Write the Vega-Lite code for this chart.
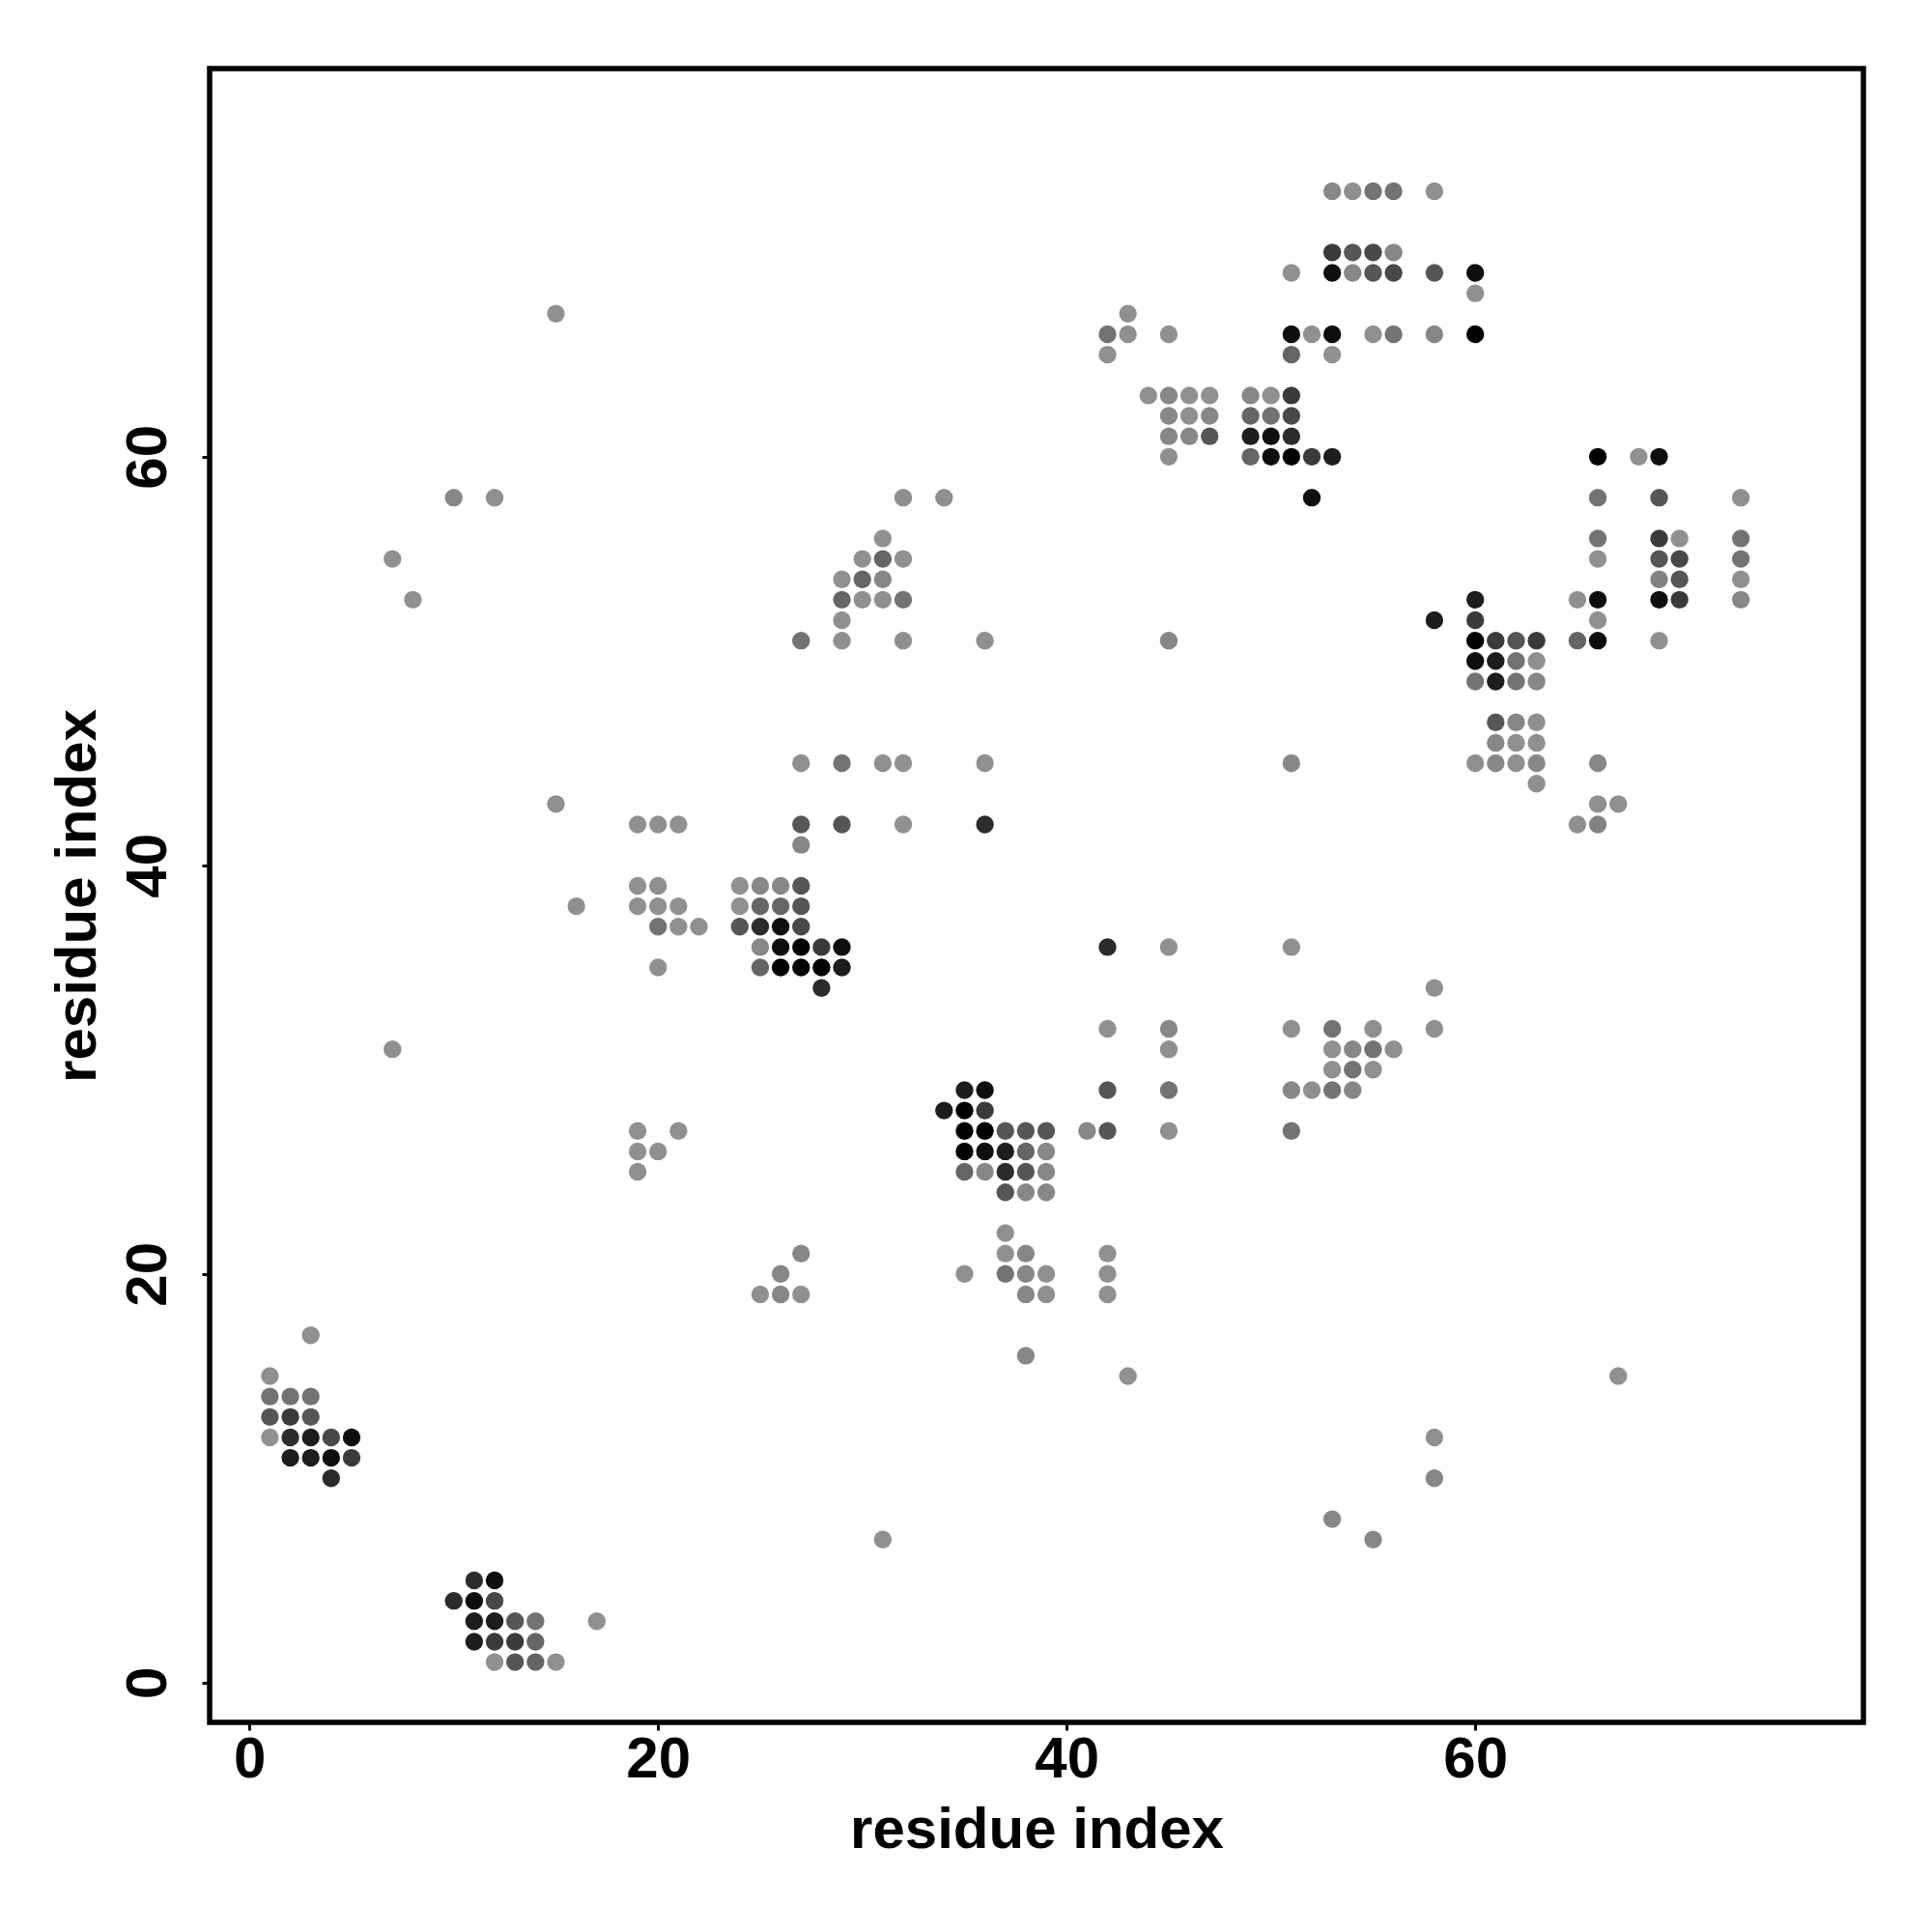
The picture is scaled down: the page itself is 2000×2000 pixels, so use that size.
{
  "$schema": "https://vega.github.io/schema/vega-lite/v6.json",
  "width": 1712,
  "height": 1712,
  "autosize": {"type": "none"},
  "padding": {"left": 217, "top": 71, "right": 71, "bottom": 217},
  "background": "white",
  "config": {"view": {"stroke": "black", "strokeWidth": 5.5}},
  "data": {
    "values": [
      {"i":1,"j":15,"s":1},{"i":1,"j":14,"s":2},{"i":2,"j":14,"s":2},{"i":3,"j":14,"s":2},
      {"i":1,"j":13,"s":3},{"i":2,"j":13,"s":4},{"i":3,"j":13,"s":3},
      {"i":1,"j":12,"s":1},{"i":2,"j":12,"s":4.5},{"i":3,"j":12,"s":5},{"i":4,"j":12,"s":3.5},{"i":5,"j":12,"s":5.5},
      {"i":2,"j":11,"s":5},{"i":3,"j":11,"s":5},{"i":4,"j":11,"s":5.5},{"i":5,"j":11,"s":4},
      {"i":4,"j":10,"s":4.5},{"i":3,"j":17,"s":1},
      {"i":11,"j":5,"s":4.5},{"i":12,"j":5,"s":5.5},
      {"i":10,"j":4,"s":4.5},{"i":11,"j":4,"s":5.5},{"i":12,"j":4,"s":3.5},
      {"i":11,"j":3,"s":5},{"i":12,"j":3,"s":5},{"i":13,"j":3,"s":3},{"i":14,"j":3,"s":2},{"i":17,"j":3,"s":1},
      {"i":11,"j":2,"s":5},{"i":12,"j":2,"s":4},{"i":13,"j":2,"s":4},{"i":14,"j":2,"s":2.5},
      {"i":12,"j":1,"s":1},{"i":13,"j":1,"s":3},{"i":14,"j":1,"s":2.5},{"i":15,"j":1,"s":1},
      {"i":15,"j":67,"s":1},{"i":10,"j":58,"s":1.3},{"i":12,"j":58,"s":1},{"i":7,"j":55,"s":1},{"i":8,"j":53,"s":1},
      {"i":15,"j":43,"s":1},{"i":16,"j":38,"s":1},{"i":7,"j":31,"s":1},
      {"i":19,"j":42,"s":1},{"i":20,"j":42,"s":1},{"i":21,"j":42,"s":1},
      {"i":19,"j":39,"s":1},{"i":20,"j":39,"s":1},
      {"i":19,"j":38,"s":1},{"i":20,"j":38,"s":1},{"i":21,"j":38,"s":1},
      {"i":20,"j":37,"s":2},{"i":21,"j":37,"s":1},{"i":22,"j":37,"s":1},
      {"i":20,"j":35,"s":1},
      {"i":19,"j":27,"s":1},{"i":21,"j":27,"s":1},{"i":19,"j":26,"s":1},{"i":20,"j":26,"s":1},{"i":19,"j":25,"s":1},
      {"i":25,"j":19,"s":1},{"i":26,"j":19,"s":1.3},{"i":27,"j":19,"s":1},{"i":26,"j":20,"s":1.3},{"i":27,"j":21,"s":1.3},
      {"i":24,"j":39,"s":1},{"i":25,"j":39,"s":1.3},{"i":26,"j":39,"s":1.3},{"i":27,"j":39,"s":3},
      {"i":24,"j":38,"s":1},{"i":25,"j":38,"s":2.5},{"i":26,"j":38,"s":2.5},{"i":27,"j":38,"s":3},
      {"i":24,"j":37,"s":3},{"i":25,"j":37,"s":4.5},{"i":26,"j":37,"s":5.5},{"i":27,"j":37,"s":3.5},
      {"i":25,"j":36,"s":1.3},{"i":26,"j":36,"s":5.5},{"i":27,"j":36,"s":6},{"i":28,"j":36,"s":4},{"i":29,"j":36,"s":5.5},
      {"i":25,"j":35,"s":2.5},{"i":26,"j":35,"s":6},{"i":27,"j":35,"s":6},{"i":28,"j":35,"s":6},{"i":29,"j":35,"s":5},
      {"i":28,"j":34,"s":4.5},
      {"i":27,"j":42,"s":3},{"i":29,"j":42,"s":3},{"i":32,"j":42,"s":1},{"i":36,"j":42,"s":4.5},{"i":27,"j":41,"s":1.3},
      {"i":27,"j":45,"s":1},{"i":29,"j":45,"s":2},{"i":31,"j":45,"s":1},{"i":32,"j":45,"s":1},{"i":36,"j":45,"s":1},{"i":51,"j":45,"s":1.3},
      {"i":27,"j":51,"s":2},{"i":29,"j":51,"s":1},{"i":32,"j":51,"s":1},{"i":36,"j":51,"s":1},{"i":45,"j":51,"s":1.3},
      {"i":29,"j":52,"s":1},
      {"i":29,"j":53,"s":2.5},{"i":30,"j":53,"s":1},{"i":31,"j":53,"s":1},{"i":32,"j":53,"s":2},
      {"i":29,"j":54,"s":1},{"i":30,"j":54,"s":2.5},{"i":31,"j":54,"s":1.3},
      {"i":30,"j":55,"s":1},{"i":31,"j":55,"s":2.5},{"i":32,"j":55,"s":1},
      {"i":31,"j":56,"s":1},{"i":32,"j":58,"s":1},{"i":34,"j":58,"s":1},
      {"i":35,"j":29,"s":5},{"i":36,"j":29,"s":5.5},
      {"i":34,"j":28,"s":5},{"i":35,"j":28,"s":6},{"i":36,"j":28,"s":4},
      {"i":35,"j":27,"s":6},{"i":36,"j":27,"s":6},{"i":37,"j":27,"s":3},{"i":38,"j":27,"s":3},{"i":39,"j":27,"s":3},
      {"i":35,"j":26,"s":6},{"i":36,"j":26,"s":5.5},{"i":37,"j":26,"s":5},{"i":38,"j":26,"s":2.5},{"i":39,"j":26,"s":1.3},
      {"i":35,"j":25,"s":2.5},{"i":36,"j":25,"s":1.3},{"i":37,"j":25,"s":4.5},{"i":38,"j":25,"s":3},{"i":39,"j":25,"s":1.3},
      {"i":37,"j":24,"s":3},{"i":38,"j":24,"s":1.3},{"i":39,"j":24,"s":1.3},
      {"i":37,"j":22,"s":1},{"i":37,"j":21,"s":1},{"i":38,"j":21,"s":1.3},{"i":42,"j":21,"s":1},
      {"i":35,"j":20,"s":1},{"i":37,"j":20,"s":2},{"i":38,"j":20,"s":1.3},{"i":39,"j":20,"s":1},{"i":42,"j":20,"s":1},
      {"i":38,"j":19,"s":1.3},{"i":39,"j":19,"s":1},{"i":42,"j":19,"s":1},
      {"i":38,"j":16,"s":1.3},{"i":43,"j":15,"s":1},{"i":31,"j":7,"s":1},
      {"i":42,"j":36,"s":4.5},{"i":45,"j":36,"s":1},
      {"i":42,"j":32,"s":1},{"i":45,"j":32,"s":1.3},{"i":45,"j":31,"s":1},
      {"i":42,"j":29,"s":3},{"i":45,"j":29,"s":2},
      {"i":41,"j":27,"s":1.3},{"i":42,"j":27,"s":3},{"i":45,"j":27,"s":1},
      {"i":51,"j":36,"s":1},{"i":51,"j":32,"s":1},{"i":53,"j":32,"s":2},{"i":55,"j":32,"s":1},{"i":58,"j":32,"s":1},{"i":58,"j":34,"s":1},
      {"i":53,"j":31,"s":1},{"i":54,"j":31,"s":1.3},{"i":55,"j":31,"s":2},{"i":56,"j":31,"s":1},
      {"i":53,"j":30,"s":1},{"i":54,"j":30,"s":2},{"i":55,"j":30,"s":1},
      {"i":51,"j":29,"s":1.3},{"i":52,"j":29,"s":1},{"i":53,"j":29,"s":2},{"i":54,"j":29,"s":1.3},
      {"i":51,"j":27,"s":2},
      {"i":58,"j":12,"s":1},{"i":58,"j":10,"s":1.3},{"i":53,"j":8,"s":1.3},{"i":55,"j":7,"s":1.3},{"i":67,"j":15,"s":1},
      {"i":43,"j":67,"s":1},
      {"i":42,"j":66,"s":2},{"i":43,"j":66,"s":1},{"i":45,"j":66,"s":1},{"i":51,"j":66,"s":5.5},{"i":52,"j":66,"s":1},
      {"i":42,"j":65,"s":1},{"i":51,"j":65,"s":2.5},
      {"i":44,"j":63,"s":1},{"i":45,"j":63,"s":1.3},{"i":46,"j":63,"s":1},{"i":47,"j":63,"s":1},{"i":49,"j":63,"s":1.3},{"i":50,"j":63,"s":1},{"i":51,"j":63,"s":4},
      {"i":45,"j":62,"s":1.3},{"i":46,"j":62,"s":1},{"i":47,"j":62,"s":1.3},{"i":49,"j":62,"s":2.5},{"i":50,"j":62,"s":2},{"i":51,"j":62,"s":3.5},
      {"i":45,"j":61,"s":1.3},{"i":46,"j":61,"s":1.3},{"i":47,"j":61,"s":3},{"i":49,"j":61,"s":5},{"i":50,"j":61,"s":5.5},{"i":51,"j":61,"s":4.5},
      {"i":45,"j":60,"s":1},{"i":49,"j":60,"s":2.5},{"i":50,"j":60,"s":5.5},{"i":51,"j":60,"s":6},{"i":52,"j":60,"s":4},{"i":53,"j":60,"s":5},
      {"i":52,"j":58,"s":5.5},{"i":51,"j":69,"s":1},
      {"i":53,"j":73,"s":1.3},{"i":54,"j":73,"s":1},{"i":55,"j":73,"s":2},{"i":56,"j":73,"s":2},{"i":58,"j":73,"s":1},
      {"i":53,"j":70,"s":4},{"i":54,"j":70,"s":3},{"i":55,"j":70,"s":3.5},{"i":56,"j":70,"s":1.3},
      {"i":53,"j":69,"s":5.5},{"i":54,"j":69,"s":1.3},{"i":55,"j":69,"s":3},{"i":56,"j":69,"s":3.5},{"i":58,"j":69,"s":3},{"i":60,"j":69,"s":5.5},
      {"i":60,"j":68,"s":1},
      {"i":53,"j":66,"s":5.5},{"i":55,"j":66,"s":1},{"i":56,"j":66,"s":2},{"i":58,"j":66,"s":1.3},{"i":60,"j":66,"s":6},
      {"i":53,"j":65,"s":1},
      {"i":66,"j":60,"s":6},{"i":68,"j":60,"s":1},{"i":69,"j":60,"s":5.5},
      {"i":66,"j":58,"s":2},{"i":69,"j":58,"s":3},{"i":73,"j":58,"s":1},
      {"i":66,"j":56,"s":2},{"i":69,"j":56,"s":4},{"i":70,"j":56,"s":1},{"i":73,"j":56,"s":2},
      {"i":66,"j":55,"s":1},{"i":69,"j":55,"s":3},{"i":70,"j":55,"s":3.5},{"i":73,"j":55,"s":2},
      {"i":69,"j":54,"s":1.5},{"i":70,"j":54,"s":3},{"i":73,"j":54,"s":1},
      {"i":60,"j":53,"s":5},{"i":65,"j":53,"s":1},{"i":66,"j":53,"s":5.5},{"i":69,"j":53,"s":5.5},{"i":70,"j":53,"s":4},{"i":73,"j":53,"s":1.3},
      {"i":58,"j":52,"s":5},{"i":60,"j":52,"s":4},{"i":66,"j":52,"s":1},
      {"i":60,"j":51,"s":6},{"i":61,"j":51,"s":4},{"i":62,"j":51,"s":3},{"i":63,"j":51,"s":4},{"i":65,"j":51,"s":2.5},{"i":66,"j":51,"s":5.5},{"i":69,"j":51,"s":1},
      {"i":60,"j":50,"s":5.5},{"i":61,"j":50,"s":5},{"i":62,"j":50,"s":2},{"i":63,"j":50,"s":1},
      {"i":60,"j":49,"s":2},{"i":61,"j":49,"s":5},{"i":62,"j":49,"s":2},{"i":63,"j":49,"s":1.3},
      {"i":61,"j":47,"s":3},{"i":62,"j":47,"s":1.3},{"i":63,"j":47,"s":1},
      {"i":61,"j":46,"s":1.3},{"i":62,"j":46,"s":1},{"i":63,"j":46,"s":1},
      {"i":60,"j":45,"s":1},{"i":61,"j":45,"s":1.3},{"i":62,"j":45,"s":1},{"i":63,"j":45,"s":1.3},{"i":66,"j":45,"s":1.3},
      {"i":63,"j":44,"s":1},
      {"i":66,"j":43,"s":1},{"i":67,"j":43,"s":1},
      {"i":65,"j":42,"s":1},{"i":66,"j":42,"s":1.5}
    ]
  },
  "mark": {"type": "circle", "size": 338, "opacity": 1, "stroke": null},
  "encoding": {
    "x": {
      "field": "i", "type": "quantitative",
      "scale": {"domain": [-1.95, 79], "nice": false, "zero": false},
      "axis": {
        "values": [0, 20, 40, 60], "title": "residue index", "grid": false, "domain": false,
        "tickSize": 8, "tickWidth": 3, "tickColor": "black",
        "labelFont": "Liberation Sans", "labelFontSize": 60, "labelFontWeight": "bold", "labelColor": "black",
        "labelPadding": 1, "labelFlush": false, "labelOverlap": false,
        "titleFont": "Liberation Sans", "titleFontSize": 60, "titleFontWeight": "bold", "titleColor": "black",
        "titleY": 129, "titleBaseline": "alphabetic"
      }
    },
    "y": {
      "field": "j", "type": "quantitative",
      "scale": {"domain": [-1.95, 79], "nice": false, "zero": false},
      "axis": {
        "values": [0, 20, 40, 60], "title": "residue index", "grid": false, "domain": false,
        "tickSize": 8, "tickWidth": 3, "tickColor": "black",
        "labelFont": "Liberation Sans", "labelFontSize": 60, "labelFontWeight": "bold", "labelColor": "black",
        "labelAngle": -90, "labelAlign": "center", "labelBaseline": "alphabetic",
        "labelPadding": 38, "labelFlush": false, "labelOverlap": false,
        "titleFont": "Liberation Sans", "titleFontSize": 60, "titleFontWeight": "bold", "titleColor": "black",
        "titleAngle": -90, "titleX": -119, "titleBaseline": "alphabetic"
      }
    },
    "color": {
      "field": "s", "type": "quantitative",
      "scale": {"domain": [1, 6], "range": ["#909090", "#000000"], "interpolate": "rgb"},
      "legend": null
    }
  }
}
